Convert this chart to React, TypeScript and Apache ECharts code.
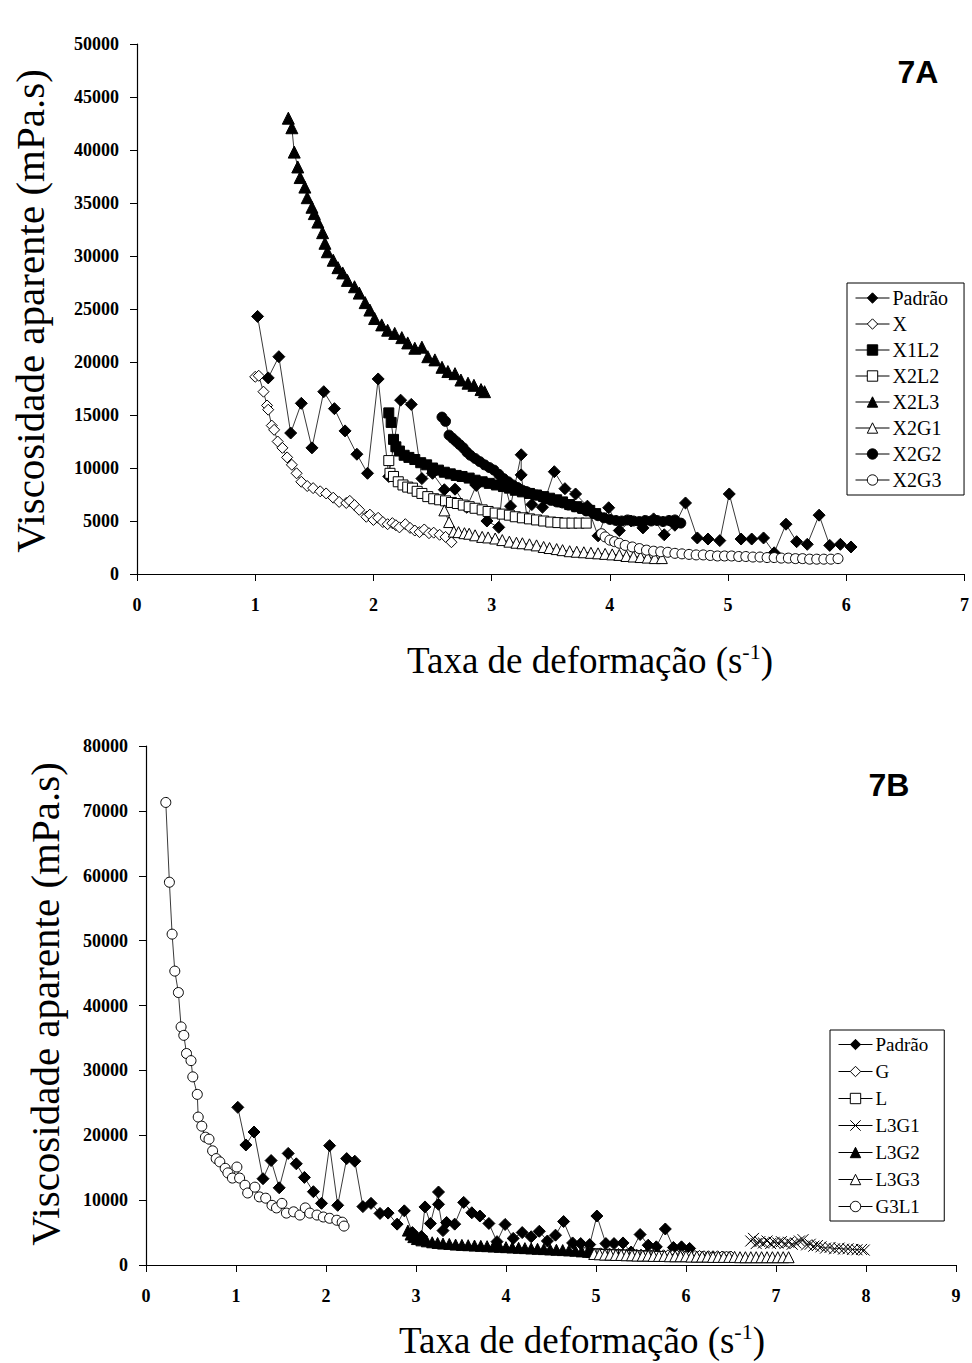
import React, { useEffect, useRef } from "react";
import * as echarts from "echarts";

const SERIF = "'Liberation Serif', 'Times New Roman', serif";
const SANS = "'Liberation Sans', Arial, sans-serif";

// ---------- data (x = taxa de deformação, y = viscosidade) ----------
const padrao: number[][] = [
  [1.02, 24300], [1.11, 18500], [1.2, 20500], [1.3, 13300], [1.39, 16100], [1.48, 11900],
  [1.58, 17200], [1.67, 15600], [1.76, 13500], [1.86, 11300], [1.95, 9500], [2.04, 18400],
  [2.13, 9200], [2.23, 16400], [2.32, 16000], [2.41, 9000], [2.5, 9500], [2.6, 7950],
  [2.69, 8000], [2.79, 6300], [2.87, 8350], [2.96, 5000], [3.06, 4400], [3.1, 8950],
  [3.16, 6400], [3.25, 11250], [3.25, 9350], [3.3, 5300], [3.34, 6550], [3.43, 6300],
  [3.53, 9650], [3.62, 8050], [3.71, 7550], [3.81, 6400], [3.9, 3600], [3.99, 6250],
  [4.08, 4100], [4.18, 5000], [4.28, 4350], [4.37, 5200], [4.46, 3700], [4.55, 4600],
  [4.64, 6700], [4.74, 3400], [4.83, 3300], [4.93, 3150], [5.01, 7550], [5.11, 3300],
  [5.2, 3300], [5.3, 3400], [5.39, 2000], [5.49, 4700], [5.58, 3050], [5.67, 2800],
  [5.77, 5550], [5.86, 2700], [5.95, 2800], [6.04, 2550],
];

const seriesX: number[][] = [
  [1.0, 18600], [1.03, 18700], [1.07, 17200], [1.1, 15900], [1.11, 15500], [1.14, 14000],
  [1.16, 13600], [1.19, 12500], [1.23, 11900], [1.27, 11000], [1.31, 10300], [1.35, 9500],
  [1.39, 8700], [1.44, 8300], [1.49, 8100], [1.55, 7800], [1.6, 7600], [1.66, 7200],
  [1.71, 6800], [1.77, 6700], [1.8, 6900], [1.84, 6500], [1.88, 6050], [1.94, 5400],
  [1.97, 5600], [2.0, 5100], [2.04, 5300], [2.08, 4900], [2.12, 4700], [2.16, 4800],
  [2.19, 4600], [2.22, 4400], [2.27, 4700], [2.31, 4350], [2.35, 4100], [2.39, 3950],
  [2.43, 4200], [2.47, 3850], [2.51, 3900], [2.56, 3700], [2.61, 3500], [2.66, 3000],
];

const x1l2: number[][] = [
  [2.13, 15200], [2.15, 14300], [2.17, 12700], [2.19, 12000], [2.22, 11600], [2.26, 11200],
  [2.3, 11000], [2.35, 10800], [2.4, 10500], [2.45, 10300], [2.5, 10000], [2.55, 9800],
  [2.6, 9600], [2.65, 9450], [2.7, 9300], [2.75, 9200], [2.81, 9050], [2.86, 8850],
  [2.92, 8700], [2.98, 8550], [3.04, 8400], [3.1, 8250], [3.15, 8100], [3.2, 7900],
  [3.26, 7750], [3.32, 7600], [3.38, 7450], [3.44, 7300], [3.49, 7150], [3.55, 7000],
  [3.6, 6800], [3.66, 6550], [3.72, 6350], [3.77, 6200], [3.83, 6000], [3.88, 5700],
];

const x2l2: number[][] = [
  [2.13, 10700], [2.14, 9500], [2.17, 9200], [2.21, 8700], [2.25, 8400], [2.29, 8200],
  [2.33, 8100], [2.37, 7800], [2.41, 7600], [2.46, 7300], [2.51, 7100], [2.56, 7000],
  [2.61, 6900], [2.66, 6750], [2.71, 6650], [2.76, 6500], [2.81, 6350], [2.86, 6200],
  [2.92, 6050], [2.97, 5900], [3.03, 5750], [3.09, 5650], [3.15, 5550], [3.2, 5400],
  [3.26, 5300], [3.32, 5200], [3.38, 5100], [3.44, 5000], [3.5, 4900], [3.56, 4850],
  [3.62, 4800], [3.68, 4800], [3.74, 4800], [3.8, 4800],
];

const x2l3: number[][] = [
  [1.28, 43000], [1.31, 42100], [1.33, 39800], [1.36, 38400], [1.38, 37400], [1.42, 36500],
  [1.44, 35500], [1.48, 34600], [1.5, 34000], [1.53, 33200], [1.57, 32200], [1.59, 31200],
  [1.61, 30400], [1.66, 29600], [1.7, 28900], [1.74, 28400], [1.78, 27700], [1.84, 27100],
  [1.88, 26500], [1.93, 25600], [1.97, 24900], [2.01, 24100], [2.07, 23500], [2.12, 23000],
  [2.18, 22700], [2.24, 22300], [2.29, 21800], [2.35, 21300], [2.41, 21400], [2.46, 20500],
  [2.52, 20200], [2.58, 19500], [2.63, 19100], [2.69, 18900], [2.74, 18300], [2.8, 18000],
  [2.85, 17800], [2.91, 17400], [2.94, 17200],
];

const x2g1: number[][] = [
  [2.6, 6000], [2.64, 4900], [2.68, 4000], [2.72, 3950], [2.77, 3850], [2.81, 3800],
  [2.86, 3650], [2.92, 3500], [2.97, 3450], [3.03, 3350], [3.09, 3200], [3.15, 3050],
  [3.21, 2950], [3.26, 2900], [3.32, 2800], [3.38, 2700], [3.44, 2550], [3.49, 2450],
  [3.55, 2350], [3.6, 2250], [3.66, 2150], [3.72, 2100], [3.78, 2050], [3.84, 2000],
  [3.9, 1950], [3.96, 1900], [4.02, 1850], [4.08, 1800], [4.14, 1700], [4.2, 1650],
  [4.26, 1600], [4.32, 1550], [4.38, 1500], [4.44, 1500],
];

const x2g2: number[][] = [
  [2.58, 14800], [2.61, 14400], [2.64, 13100], [2.67, 12800], [2.7, 12500], [2.73, 12200],
  [2.76, 11900], [2.79, 11500], [2.82, 11200], [2.86, 10900], [2.9, 10600], [2.94, 10300],
  [2.98, 10050], [3.02, 9800], [3.06, 9400], [3.1, 9000], [3.14, 8700], [3.18, 8400],
  [3.22, 8150], [3.26, 7900], [3.3, 7750], [3.34, 7600], [3.38, 7450], [3.42, 7300],
  [3.46, 7100], [3.5, 6950], [3.55, 6800], [3.6, 6700], [3.65, 6500], [3.7, 6350],
  [3.75, 6200], [3.8, 5950], [3.85, 5800], [3.9, 5500], [3.95, 5300], [4.0, 5150],
  [4.05, 5050], [4.1, 5000], [4.15, 5100], [4.2, 5000], [4.25, 4950], [4.3, 5050],
  [4.35, 5000], [4.4, 5050], [4.45, 4950], [4.5, 5050], [4.55, 5100], [4.6, 4800],
];

const x2g3: number[][] = [
  [3.93, 3800], [3.96, 3500], [4.0, 3200], [4.04, 3050], [4.08, 2900], [4.13, 2700],
  [4.19, 2550], [4.25, 2400], [4.31, 2250], [4.37, 2150], [4.43, 2100], [4.49, 2050],
  [4.55, 1950], [4.61, 1900], [4.67, 1850], [4.73, 1800], [4.79, 1800], [4.85, 1750],
  [4.91, 1700], [4.97, 1700], [5.03, 1700], [5.09, 1650], [5.15, 1650], [5.21, 1600],
  [5.27, 1600], [5.33, 1550], [5.39, 1550], [5.45, 1500], [5.51, 1500], [5.57, 1450],
  [5.63, 1450], [5.69, 1400], [5.75, 1400], [5.81, 1400], [5.87, 1400], [5.93, 1450],
];

const seriesG: number[][] = [
  [5.05, 1800], [5.1, 1750], [5.15, 1750], [5.2, 1700], [5.25, 1700], [5.3, 1650],
  [5.35, 1650], [5.4, 1650], [5.45, 1600], [5.5, 1600], [5.55, 1550], [5.6, 1550],
  [5.65, 1550], [5.7, 1500], [5.75, 1500], [5.8, 1500], [5.85, 1450], [5.9, 1450],
  [5.95, 1450], [6.0, 1450], [6.05, 1400], [6.1, 1400], [6.15, 1400], [6.2, 1350],
  [6.25, 1350], [6.3, 1350], [6.35, 1350], [6.4, 1300], [6.45, 1300], [6.5, 1300],
];

const seriesL: number[][] = [
  [4.9, 1950], [4.94, 1850], [4.98, 1800], [5.02, 1750], [5.06, 1750], [5.1, 1700],
  [5.14, 1700], [5.18, 1650], [5.22, 1650], [5.26, 1600], [5.3, 1600], [5.34, 1600],
  [5.38, 1550], [5.42, 1550], [5.46, 1500], [5.5, 1500], [5.54, 1500], [5.58, 1450],
  [5.62, 1450], [5.66, 1450], [5.7, 1400],
];

const l3g1: number[][] = [
  [6.72, 3700], [6.75, 4100], [6.78, 3300], [6.82, 3600], [6.86, 3400], [6.9, 3700],
  [6.94, 3300], [6.98, 3500], [7.02, 3400], [7.06, 3600], [7.1, 3300], [7.14, 3500],
  [7.18, 3200], [7.22, 3400], [7.26, 3700], [7.3, 3900], [7.34, 3100], [7.38, 3200],
  [7.42, 2900], [7.46, 3000], [7.5, 2800], [7.55, 2600], [7.6, 2700], [7.65, 2500],
  [7.7, 2600], [7.75, 2450], [7.8, 2500], [7.85, 2400], [7.9, 2350], [7.95, 2400],
  [7.98, 2300],
];

const l3g2: number[][] = [
  [2.91, 5300], [2.94, 4700], [2.97, 4300], [3.01, 4000], [3.06, 3800], [3.12, 3650],
  [3.18, 3500], [3.24, 3400], [3.3, 3300], [3.37, 3250], [3.44, 3150], [3.51, 3100],
  [3.58, 3050], [3.65, 3000], [3.72, 2950], [3.79, 2900], [3.86, 2850], [3.93, 2800],
  [4.0, 2750], [4.07, 2700], [4.14, 2650], [4.21, 2600], [4.28, 2550], [4.35, 2500],
  [4.42, 2450], [4.49, 2400], [4.56, 2350], [4.63, 2300], [4.7, 2250], [4.77, 2200],
  [4.84, 2100], [4.91, 2050], [4.95, 2000],
];

const l3g3: number[][] = [
  [4.98, 1700], [5.04, 1650], [5.1, 1600], [5.16, 1600], [5.22, 1550], [5.28, 1550],
  [5.34, 1500], [5.4, 1500], [5.46, 1450], [5.52, 1450], [5.58, 1450], [5.64, 1400],
  [5.7, 1400], [5.76, 1400], [5.82, 1350], [5.88, 1350], [5.94, 1350], [6.0, 1350],
  [6.06, 1300], [6.12, 1300], [6.18, 1300], [6.24, 1300], [6.3, 1250], [6.36, 1250],
  [6.42, 1250], [6.48, 1250], [6.54, 1250], [6.6, 1200], [6.66, 1200], [6.72, 1200],
  [6.78, 1200], [6.84, 1200], [6.9, 1200], [6.96, 1200], [7.02, 1200], [7.08, 1200],
  [7.14, 1200],
];

const g3l1: number[][] = [
  [0.22, 71300], [0.26, 59000], [0.29, 51000], [0.32, 45300], [0.36, 42000], [0.39, 36700],
  [0.42, 35400], [0.45, 32600], [0.5, 31500], [0.52, 29000], [0.57, 26300], [0.58, 22800],
  [0.62, 21400], [0.66, 19700], [0.7, 19400], [0.74, 17600], [0.78, 16400], [0.82, 15900],
  [0.88, 14900], [0.91, 14200], [0.96, 13400], [1.01, 15100], [1.04, 13400], [1.1, 12300],
  [1.13, 11100], [1.21, 12000], [1.26, 10500], [1.33, 10300], [1.4, 9200], [1.45, 8800],
  [1.51, 9500], [1.56, 8000], [1.64, 8200], [1.71, 7700], [1.77, 8800], [1.82, 8000],
  [1.9, 7700], [1.97, 7400], [2.04, 7200], [2.12, 6900], [2.18, 6600], [2.2, 6000],
];

const topNames = ["Padrão", "X", "X1L2", "X2L2", "X2L3", "X2G1", "X2G2", "X2G3"];
const bottomNames = ["Padrão", "G", "L", "L3G1", "L3G2", "L3G3", "G3L1"];

// ---------- styles ----------
type Mark = { symbol: string; size: number; hollow: boolean };
const MARKS: Record<string, Mark> = {
  "Padrão": { symbol: "diamond", size: 12, hollow: false },
  X: { symbol: "diamond", size: 11, hollow: true },
  X1L2: { symbol: "rect", size: 10, hollow: false },
  X2L2: { symbol: "rect", size: 10, hollow: true },
  X2L3: { symbol: "triangle", size: 12, hollow: false },
  X2G1: { symbol: "triangle", size: 11, hollow: true },
  X2G2: { symbol: "circle", size: 10, hollow: false },
  X2G3: { symbol: "circle", size: 10, hollow: true },
  G: { symbol: "diamond", size: 11, hollow: true },
  L: { symbol: "rect", size: 9, hollow: true },
  L3G1: { symbol: "path://M0,0L10,10M10,0L0,10", size: 11, hollow: false },
  L3G2: { symbol: "triangle", size: 11, hollow: false },
  L3G3: { symbol: "triangle", size: 11, hollow: true },
  G3L1: { symbol: "circle", size: 10, hollow: true },
};

function mkSeries(name: string, data: number[][]) {
  const m = MARKS[name];
  return {
    type: "line",
    name,
    data,
    symbol: m.symbol,
    symbolSize: m.size,
    showAllSymbol: true,
    lineStyle: { color: "#3a3a3a", width: 1 },
    itemStyle: {
      color: m.hollow ? "#ffffff" : "#000000",
      borderColor: "#000000",
      borderWidth: 1,
    },
    emphasis: { disabled: true },
    z: 2,
  };
}

const tickLabel = {
  color: "#000",
  fontFamily: SERIF,
  fontSize: 18,
  fontWeight: "bold",
  formatter: (v: number) => String(v),
};

function axisCommon() {
  return {
    type: "value",
    axisLine: { show: true, lineStyle: { color: "#000", width: 1.2 } },
    axisTick: { show: true, inside: false, length: 7, lineStyle: { color: "#000", width: 1 } },
    splitLine: { show: false },
  };
}

function legendCommon(left: number, top: number, names: string[], font: number, gap: number) {
  return {
    orient: "vertical",
    left,
    top,
    data: names,
    itemWidth: 34,
    itemHeight: 13,
    itemGap: gap,
    padding: [5, 16, 5, 8],
    borderColor: "#000",
    borderWidth: 1,
    backgroundColor: "#fff",
    selectedMode: false,
    itemStyle: { borderWidth: 1, borderColor: "#000" },
    lineStyle: { width: 1, color: "#000" },
    textStyle: { fontFamily: SERIF, fontSize: font, color: "#000", padding: [0, 0, 0, -2] },
  };
}

function xTitle(x: number, y: number) {
  return {
    type: "text",
    x,
    y,
    style: {
      text: "Taxa de deformação (s{sup|-1})",
      fontFamily: SERIF,
      fontSize: 37,
      fill: "#000",
      align: "center",
      verticalAlign: "middle",
      lineHeight: 40,
      rich: {
        sup: { fontFamily: SERIF, fontSize: 22, fill: "#000", verticalAlign: "top", lineHeight: 40, padding: [0, 0, 14, 0] },
      },
    },
  };
}

function yTitle(x: number, y: number) {
  return {
    type: "text",
    x,
    y,
    rotation: Math.PI / 2,
    style: {
      text: "Viscosidade aparente (mPa.s)",
      fontFamily: SERIF,
      fontSize: 41,
      fill: "#000",
      align: "center",
      verticalAlign: "middle",
    },
  };
}

function panelLabel(x: number, y: number, text: string) {
  return {
    type: "text",
    x,
    y,
    style: { text, fontFamily: SANS, fontWeight: "bold", fontSize: 32, fill: "#000", align: "center", verticalAlign: "middle" },
  };
}

function topOption() {
  return {
    animation: false,
    backgroundColor: "#fff",
    grid: { left: 137, top: 44, width: 829, height: 530, containLabel: false },
    xAxis: { ...axisCommon(), min: 0, max: 7, interval: 1, axisLabel: { ...tickLabel, margin: 22 } },
    yAxis: { ...axisCommon(), min: 0, max: 50000, interval: 5000, axisLabel: { ...tickLabel, margin: 18 } },
    legend: legendCommon(847, 283, topNames, 20, 6),
    series: [
      mkSeries("Padrão", padrao),
      mkSeries("X", seriesX),
      mkSeries("X1L2", x1l2),
      mkSeries("X2L2", x2l2),
      mkSeries("X2L3", x2l3),
      mkSeries("X2G1", x2g1),
      mkSeries("X2G2", x2g2),
      mkSeries("X2G3", x2g3),
    ],
    graphic: [yTitle(30, 311), xTitle(590, 660), panelLabel(918, 72, "7A")],
  };
}

function bottomOption() {
  return {
    animation: false,
    backgroundColor: "#fff",
    grid: { left: 146, top: 56, width: 810, height: 519, containLabel: false },
    xAxis: { ...axisCommon(), min: 0, max: 9, interval: 1, axisLabel: { ...tickLabel, margin: 22 } },
    yAxis: { ...axisCommon(), min: 0, max: 80000, interval: 10000, axisLabel: { ...tickLabel, margin: 18 } },
    legend: legendCommon(830, 340, bottomNames, 19, 8),
    series: [
      mkSeries("Padrão", padrao),
      mkSeries("G", seriesG),
      mkSeries("L", seriesL),
      mkSeries("L3G1", l3g1),
      mkSeries("L3G2", l3g2),
      mkSeries("L3G3", l3g3),
      mkSeries("G3L1", g3l1),
    ],
    graphic: [yTitle(45, 314), xTitle(582, 650), panelLabel(889, 95, "7B")],
  };
}

export default function App() {
  const topRef = useRef<HTMLDivElement>(null);
  const botRef = useRef<HTMLDivElement>(null);

  useEffect(() => {
    const a = echarts.init(topRef.current!, undefined, { renderer: "svg" });
    const b = echarts.init(botRef.current!, undefined, { renderer: "svg" });
    a.setOption(topOption() as any);
    b.setOption(bottomOption() as any);
    return () => {
      a.dispose();
      b.dispose();
    };
  }, []);

  return (
    <div style={{ position: "absolute", left: 0, top: 0, width: 972, height: 1363, background: "#fff" }}>
      <div ref={topRef} style={{ position: "absolute", left: 0, top: 0, width: 972, height: 690 }} />
      <div ref={botRef} style={{ position: "absolute", left: 0, top: 690, width: 972, height: 673 }} />
    </div>
  );
}
